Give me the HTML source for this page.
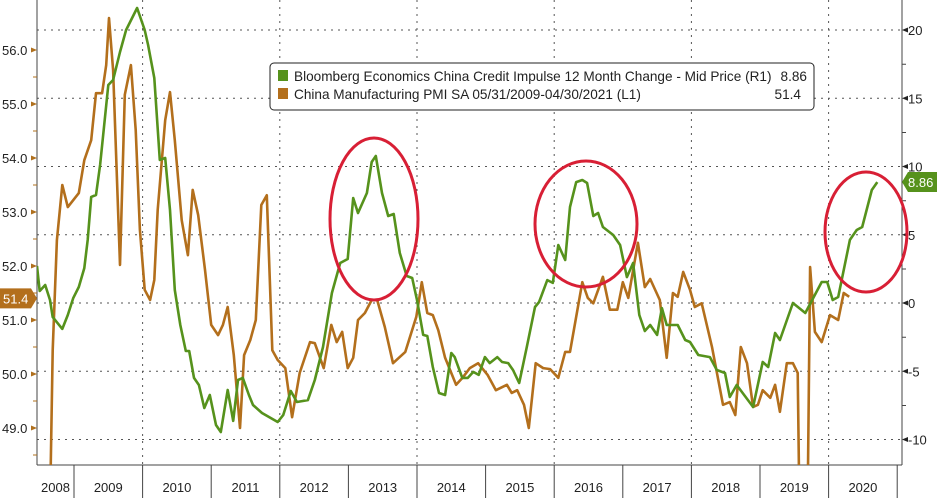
<!DOCTYPE html>
<html><head><meta charset="utf-8"><style>
html,body{margin:0;padding:0;background:#fff;overflow:hidden;width:937px;height:498px;}
svg{display:block;font-family:"Liberation Sans","DejaVu Sans",sans-serif;}
</style></head><body>
<svg id="chart" width="937" height="498" viewBox="0 0 937 498"></svg>
<script>
const greenDates=[2008.46,2008.50,2008.58,2008.65,2008.69,2008.83,2008.91,2008.99,2009.07,2009.15,2009.20,2009.25,2009.32,2009.38,2009.50,2009.57,2009.67,2009.76,2009.92,2010.03,2010.08,2010.17,2010.25,2010.33,2010.40,2010.47,2010.55,2010.63,2010.68,2010.75,2010.82,2010.90,2010.98,2011.07,2011.14,2011.24,2011.32,2011.39,2011.46,2011.55,2011.61,2011.74,2011.97,2012.05,2012.16,2012.25,2012.41,2012.51,2012.63,2012.76,2012.88,2012.99,2013.07,2013.14,2013.27,2013.34,2013.40,2013.49,2013.58,2013.66,2013.75,2013.85,2013.93,2014.00,2014.09,2014.15,2014.23,2014.32,2014.41,2014.50,2014.55,2014.66,2014.74,2014.82,2014.90,2014.99,2015.06,2015.17,2015.24,2015.33,2015.40,2015.49,2015.60,2015.72,2015.78,2015.90,2015.98,2016.06,2016.16,2016.23,2016.32,2016.41,2016.48,2016.57,2016.64,2016.71,2016.86,2016.96,2017.06,2017.15,2017.24,2017.32,2017.40,2017.50,2017.57,2017.64,2017.80,2017.91,2017.98,2018.10,2018.27,2018.37,2018.49,2018.56,2018.66,2018.90,2019.04,2019.12,2019.22,2019.29,2019.48,2019.66,2019.90,2019.98,2020.06,2020.14,2020.31,2020.41,2020.49,2020.63,2020.71];
const greenValues=[2.71,0.88,1.32,0.22,-1.03,-1.90,-0.88,0.37,1.17,2.56,4.62,7.77,7.91,10.11,15.97,16.34,18.39,20.0,21.61,20.0,18.9,16.48,10.48,10.62,6.81,0.95,-1.61,-3.52,-3.52,-5.49,-6.01,-7.69,-6.74,-8.94,-9.45,-6.37,-8.64,-5.64,-5.49,-6.74,-7.47,-8.06,-8.72,-8.21,-6.45,-7.25,-7.11,-5.64,-3.22,0.73,2.93,3.22,7.69,6.59,8.06,10.33,10.77,8.06,6.37,6.52,3.66,1.98,1.83,0.22,-2.34,-2.42,-4.69,-6.59,-6.74,-3.66,-3.96,-5.49,-5.49,-5.05,-5.27,-3.96,-4.40,-3.96,-4.32,-4.40,-4.91,-5.86,-3.22,-0.29,0.07,1.68,1.47,4.25,3.15,7.03,8.86,9.01,8.79,6.37,6.59,5.57,4.98,4.25,1.90,2.93,-0.88,-2.05,-1.61,-2.34,-0.37,-1.61,-1.61,-2.71,-2.86,-3.81,-3.96,-4.91,-5.13,-6.89,-6.01,-7.62,-4.32,-4.69,-2.20,-2.71,0,-0.73,1.54,1.54,0.22,0.44,4.62,5.35,5.57,8.28,8.86];
const pmiDates=[2008.65,2008.69,2008.75,2008.83,2008.91,2008.99,2009.07,2009.15,2009.25,2009.32,2009.41,2009.47,2009.51,2009.57,2009.67,2009.74,2009.83,2009.90,2009.96,2010.03,2010.11,2010.17,2010.22,2010.33,2010.40,2010.47,2010.57,2010.66,2010.73,2010.81,2010.91,2011.00,2011.10,2011.17,2011.24,2011.33,2011.42,2011.48,2011.57,2011.65,2011.73,2011.81,2011.89,2011.97,2012.08,2012.18,2012.29,2012.44,2012.51,2012.64,2012.75,2012.83,2012.91,2012.99,2013.07,2013.14,2013.24,2013.34,2013.42,2013.53,2013.65,2013.83,2013.99,2014.07,2014.15,2014.23,2014.31,2014.41,2014.57,2014.67,2014.77,2014.89,2015.03,2015.15,2015.31,2015.38,2015.46,2015.56,2015.63,2015.73,2015.84,2015.94,2016.06,2016.16,2016.23,2016.41,2016.49,2016.57,2016.71,2016.81,2016.92,2017.00,2017.08,2017.22,2017.32,2017.40,2017.54,2017.64,2017.73,2017.80,2017.88,2017.98,2018.05,2018.15,2018.30,2018.46,2018.56,2018.64,2018.72,2018.81,2018.90,2018.97,2019.04,2019.15,2019.22,2019.29,2019.39,2019.48,2019.55,2019.58,2019.69,2019.73,2019.80,2019.90,2020.02,2020.14,2020.22,2020.30];
const pmiValues=[47.5,50.44,52.48,53.50,53.09,53.22,53.35,53.96,54.33,55.20,55.20,55.72,56.59,55.63,52.02,55.17,55.72,54.52,52.67,51.56,51.37,51.74,53.04,54.70,55.22,54.33,52.85,52.20,53.41,52.94,51.93,50.91,50.72,50.91,51.24,50.35,49.0,50.35,50.63,51.0,53.13,53.31,50.44,50.26,50.11,49.20,50.02,50.59,50.57,50.11,50.91,50.59,50.78,50.11,50.30,51.0,51.13,51.37,51.37,50.87,50.20,50.41,51.06,51.70,51.13,51.09,50.81,50.30,49.80,49.94,50.11,50.20,49.98,49.70,49.80,49.65,49.70,49.43,49.0,50.20,50.11,50.09,49.93,50.41,50.41,51.70,51.41,51.31,51.80,51.19,51.19,51.70,51.41,52.43,51.61,51.76,51.37,50.30,51.50,51.43,51.89,51.56,51.24,51.31,50.50,49.43,49.48,49.24,50.50,50.20,49.39,49.43,49.70,49.56,49.80,49.30,50.20,50.20,50.02,47.0,47.0,51.98,50.78,50.59,51.09,51.0,51.50,51.43];
const leftTicks=[49.0,50.0,51.0,52.0,53.0,54.0,55.0,56.0];
const rightTicks=[-10,-5,0,5,10,15,20];
const years=[2008,2009,2010,2011,2012,2013,2014,2015,2016,2017,2018,2019,2020];
const lastGreen="8.86", lastPmi="51.4";

const NS="http://www.w3.org/2000/svg";
const svg=document.getElementById('chart');
const PL=37,PR=902,PB=465,PT=0;
const xS=t=>74+(t-2009)*68.6;
const yL=v=>50+(56-v)*54;
const yR=v=>303-v*13.65;
function mk(tag,attrs,parent){const e=document.createElementNS(NS,tag);for(const k in attrs)e.setAttribute(k,attrs[k]);(parent||svg).appendChild(e);return e;}

const defs=mk('defs',{});
const cp=mk('clipPath',{id:'plotclip'},defs);
mk('rect',{x:PL,y:PT,width:PR-PL,height:PB-PT},cp);

const grid=mk('g',{});


rightTicks.forEach(v=>{mk('line',{x1:PL,x2:PR,y1:yR(v),y2:yR(v),stroke:'#555','stroke-width':1,'stroke-dasharray':'2,5'},grid);});
years.forEach(y=>{if(y%2===0&&y>2008){const x=xS(y);mk('line',{x1:x,x2:x,y1:0,y2:PB,stroke:'#555','stroke-width':1,'stroke-dasharray':'2,5'},grid);}});

const axes=mk('g',{});


mk('line',{x1:PL,x2:PL,y1:0,y2:PB,stroke:'#444','stroke-width':1},axes);
mk('line',{x1:PR,x2:PR,y1:0,y2:PB,stroke:'#444','stroke-width':1},axes);
mk('line',{x1:PL,x2:PR,y1:PB,y2:PB,stroke:'#444','stroke-width':1},axes);

leftTicks.forEach(v=>{
  const y=yL(v);
  mk('path',{d:`M${PL} ${y} L${PL-6} ${y-2.5} L${PL-6} ${y+2.5} Z`,fill:'#b0701e'},axes);
  const t=mk('text',{x:2,y:y+5,'font-size':13,fill:'#222'},axes);
  t.textContent=v.toFixed(1);
  
  
  mk('line',{x1:PL,x2:PL-4,y1:y+27,y2:y+27,stroke:'#b0701e','stroke-width':1},axes);
});
rightTicks.forEach(v=>{
  const y=yR(v);
  mk('path',{d:`M${PR} ${y} L${PR+6} ${y-2.5} L${PR+6} ${y+2.5} Z`,fill:'#222'},axes);
  mk('line',{x1:PR,x2:PR+4,y1:y-34,y2:y-34,stroke:'#444','stroke-width':1},axes);
  const t=mk('text',{x:908,y:y+5,'font-size':13,fill:'#222'},axes);
  t.textContent=String(v);
  
  
});
years.forEach(y=>{
  const x0=xS(y),x1=xS(y+1);
  if(y>2008) mk('line',{x1:x0,x2:x0,y1:PB,y2:498,stroke:'#444','stroke-width':1},axes);
  const cx=(Math.max(x0,PL)+Math.min(x1,PR))/2;
  const t=mk('text',{x:cx,y:492,'font-size':13,fill:'#222','text-anchor':'middle'},axes);
  t.textContent=String(y);
  
  
});
mk('line',{x1:xS(2021),x2:xS(2021),y1:PB,y2:498,stroke:'#444','stroke-width':1},axes);

function pts(ds,vs,yf){return ds.map((d,i)=>xS(d).toFixed(1)+','+yf(vs[i]).toFixed(1)).join(' ');}
const pmi=mk('polyline',{points:pts(pmiDates,pmiValues,yL),fill:'none',stroke:'#b36f1c','stroke-width':2.6,'stroke-linejoin':'round','clip-path':'url(#plotclip)'});


const gr=mk('polyline',{points:pts(greenDates,greenValues,yR),fill:'none',stroke:'#56921c','stroke-width':2.6,'stroke-linejoin':'round','clip-path':'url(#plotclip)'});



[[374,219,44,81],[586,224,51,63],[866,232,41,60]].forEach(e=>{
  const el=mk('ellipse',{cx:e[0],cy:e[1],rx:e[2],ry:e[3],fill:'none',stroke:'#d81f35','stroke-width':3});
  
  
});

const yl=yL(parseFloat(lastPmi));
const lb=mk('g',{});


mk('path',{d:`M0 ${yl-10} L31 ${yl-10} L37 ${yl} L31 ${yl+10} L0 ${yl+10} Z`,fill:'#b36f1c'},lb);
const lt=mk('text',{x:3,y:yl+5,'font-size':13,fill:'#fff'},lb);lt.textContent=lastPmi;
const yg=yR(parseFloat(lastGreen));
const gb=mk('g',{});


mk('path',{d:`M902 ${yg} L908 ${yg-10} L937 ${yg-10} L937 ${yg+10} L908 ${yg+10} Z`,fill:'#56921c'},gb);
const gt=mk('text',{x:908,y:yg+5,'font-size':13,fill:'#fff'},gb);gt.textContent=lastGreen;

const lg=mk('g',{});


mk('rect',{x:270,y:63,width:544,height:47,rx:4,fill:'#fff',stroke:'#222','stroke-width':1},lg);
mk('rect',{x:278,y:70,width:10,height:11,fill:'#56921c'},lg);
mk('rect',{x:278,y:88,width:10,height:11,fill:'#b36f1c'},lg);
const l1=mk('text',{x:294,y:81,'font-size':13.6,fill:'#222'},lg);l1.textContent='Bloomberg Economics China Credit Impulse 12 Month Change - Mid Price (R1)';


const l2=mk('text',{x:294,y:99,'font-size':13.6,fill:'#222'},lg);l2.textContent='China Manufacturing PMI SA 05/31/2009-04/30/2021 (L1)';


const v1=mk('text',{x:807,y:81,'font-size':13.6,fill:'#222','text-anchor':'end'},lg);v1.textContent=lastGreen;
const v2=mk('text',{x:801,y:99,'font-size':13.6,fill:'#222','text-anchor':'end'},lg);v2.textContent=lastPmi;
</script>
</body></html>
